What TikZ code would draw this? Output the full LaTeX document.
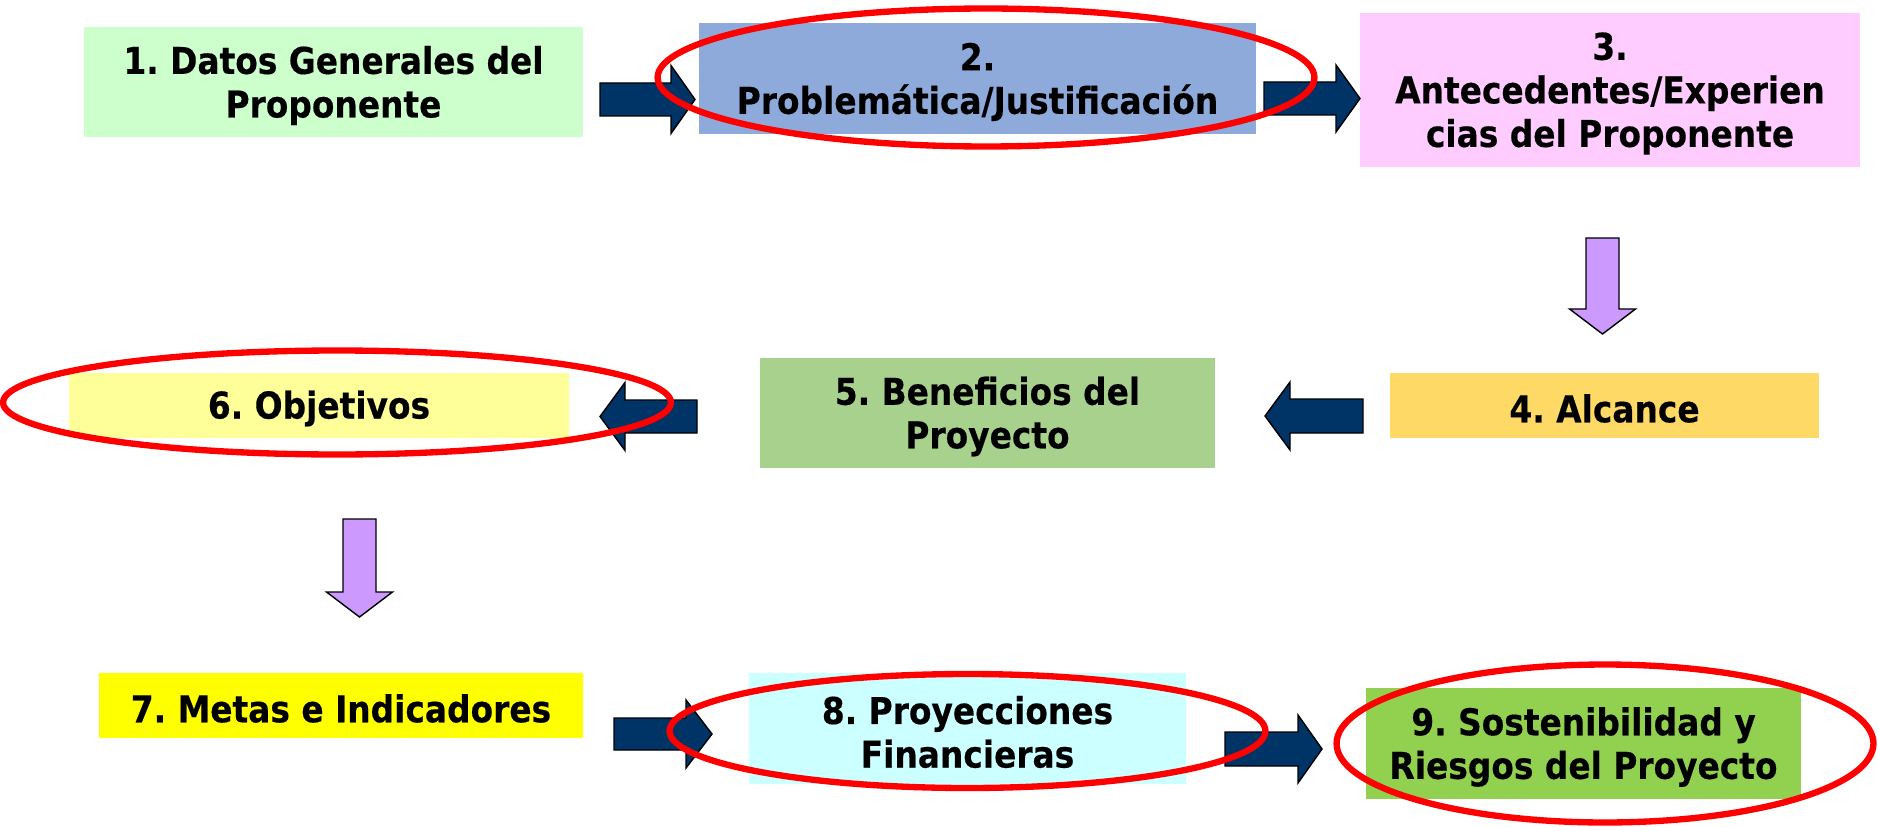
\documentclass[tikz,border=0pt]{standalone}
\usepackage{fontspec}
\newfontfamily\boxfont[FakeStretch=0.89,BoldFeatures={FakeBold=0.4}]{DejaVu Sans}
\usetikzlibrary{shapes.geometric}
\definecolor{cOne}{HTML}{CCFFCC}
\definecolor{cTwo}{HTML}{8EAADB}
\definecolor{cThree}{HTML}{FFCCFF}
\definecolor{cFour}{HTML}{FFD966}
\definecolor{cFive}{HTML}{A9D18E}
\definecolor{cSix}{HTML}{FFFF99}
\definecolor{cSeven}{HTML}{FFFF00}
\definecolor{cEight}{HTML}{CCFFFF}
\definecolor{cNine}{HTML}{92D050}
\definecolor{navy}{HTML}{003366}
\definecolor{purp}{HTML}{CC99FF}
\definecolor{ringred}{HTML}{FF0000}
\tikzset{
  box/.style={rectangle, inner sep=0pt},
  boxtext/.style={inner sep=0pt, align=center, text=black,
    font=\boxfont\bfseries\frenchspacing\fontsize{21}{24.8}\selectfont},
  navyarrow/.style={fill=navy, draw=black, line width=0.8pt, line join=miter},
  purparrow/.style={fill=purp, draw=black, line width=0.8pt, line join=miter},
  redring/.style={ellipse, draw=ringred, line width=3.6pt, inner sep=0pt, fill=none},
}
% style, tail, base, tip, yc, halfbody, halfhead
\newcommand\HArrow[7]{%
  \path[#1] (#2,{#5-#6}) -- (#3,{#5-#6}) -- (#3,{#5-#7}) -- (#4,#5) -- (#3,{#5+#7}) -- (#3,{#5+#6}) -- (#2,{#5+#6}) -- cycle;}
% style, top, base, tip, xc, halfbody, halfhead
\newcommand\VArrow[7]{%
  \path[#1] ({#5-#6},#2) -- ({#5-#6},#3) -- ({#5-#7},#3) -- (#5,#4) -- ({#5+#7},#3) -- ({#5+#6},#3) -- ({#5+#6},#2) -- cycle;}
\begin{document}
\begin{tikzpicture}[x=0.02cm,y=-0.02cm]
\useasboundingbox[fill=white] (0,0) rectangle (1878,827);
% boxes
\node[box, fill=cOne,   minimum width=9.98cm, minimum height=2.20cm] (b1) at (333.5,82)   {};
\node[box, fill=cTwo,   minimum width=11.14cm, minimum height=2.22cm] (b2) at (977.5,78.5) {};
\node[box, fill=cThree, minimum width=10.00cm, minimum height=3.08cm] (b3) at (1610,90)    {};
\node[box, fill=cFour,  minimum width=8.58cm, minimum height=1.30cm] (b4) at (1604.5,405.5) {};
\node[box, fill=cFive,  minimum width=9.10cm, minimum height=2.20cm] (b5) at (987.5,413)  {};
\node[box, fill=cSix,   minimum width=10.00cm, minimum height=1.30cm] (b6) at (319,405.5)  {};
\node[box, fill=cSeven, minimum width=9.68cm, minimum height=1.30cm] (b7) at (341,705.5)  {};
\node[box, fill=cEight, minimum width=8.74cm, minimum height=2.22cm] (b8) at (967.5,728.5) {};
\node[box, fill=cNine,  minimum width=8.70cm, minimum height=2.22cm] (b9) at (1583.5,743.5) {};
% texts
\node[boxtext] (t1) at ([yshift=-0.07cm]b1.center) {1. Datos Generales del\\Proponente};
\node[boxtext] (t2) at ([yshift=-0.07cm]b2.center) {2.\\Problemática/Justificación};
\node[boxtext] (t3) at ([yshift=-0.07cm]b3.center) {3.\\Antecedentes/Experien\\cias del Proponente};
\node[boxtext] (t4) at ([yshift=-0.06cm]b4.center) {4. Alcance};
\node[boxtext] (t5) at ([yshift=-0.07cm]b5.center) {5. Beneficios del\\Proyecto};
\node[boxtext] (t6) at ([yshift=-0.06cm]b6.center) {6. Objetivos};
\node[boxtext] (t7) at ([yshift=-0.06cm]b7.center) {7. Metas e Indicadores};
\node[boxtext] (t8) at ([yshift=-0.07cm]b8.center) {8. Proyecciones\\Financieras};
\node[boxtext] (t9) at ([yshift=-0.07cm]b9.center) {9. Sostenibilidad y\\Riesgos del Proyecto};
% block arrows
\HArrow{navyarrow}{600}{671}{695}{99.5}{16.5}{34}
\HArrow{navyarrow}{1264}{1336}{1360}{98.5}{16.5}{33.5}
\VArrow{purparrow}{238}{309}{334}{1602.5}{16.5}{33}
\HArrow{navyarrow}{1363}{1290}{1265}{416}{17}{34}
\HArrow{navyarrow}{697}{625}{600}{416.5}{16.5}{34}
\VArrow{purparrow}{519}{592}{617}{359.5}{16.5}{33}
\HArrow{navyarrow}{614}{686}{712}{734}{16}{34}
\HArrow{navyarrow}{1225}{1298}{1322}{749}{17}{34}
% red rings
\node[redring, minimum width=13.14cm, minimum height=2.76cm] (e2) at (986,77.5) {};
\node[redring, minimum width=13.36cm, minimum height=2.08cm] (e6) at (337,402.5) {};
\node[redring, minimum width=11.92cm, minimum height=2.28cm] (e8) at (967.5,731) {};
\node[redring, minimum width=10.74cm, minimum height=3.16cm] (e9) at (1605,743.5) {};
\end{tikzpicture}
\end{document}
